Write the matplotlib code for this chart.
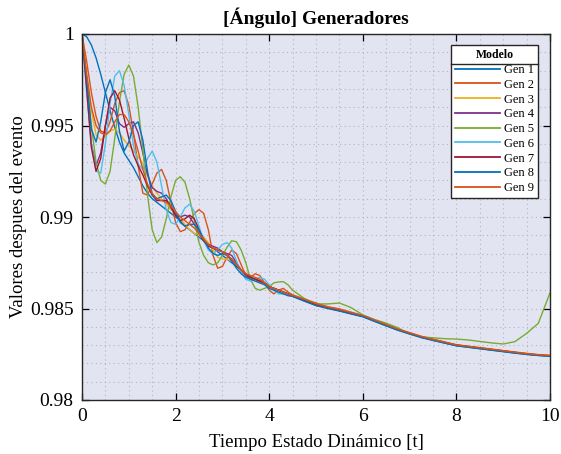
import numpy as np
import matplotlib
matplotlib.use("Agg")
from matplotlib import pyplot as plt
from matplotlib.lines import Line2D

plt.rcParams['font.family'] = ['Liberation Serif', 'DejaVu Serif']

# sample times: dense while the machines swing, coarser once they settle
t_head = np.round(np.arange(0, 4.45, 0.1), 2)
t_tail = np.arange(4.5, 10.01, 0.25)
t = np.concatenate([t_head, t_tail])

gen1 = [1.0, 0.99985, 0.9994, 0.9987, 0.9978, 0.9968, 0.9958, 0.9949, 0.9941, 0.9935,
        0.9931, 0.9927, 0.9922, 0.9917, 0.9913, 0.9910, 0.9908, 0.9906, 0.9904, 0.9902,
        0.9900, 0.9898, 0.9895, 0.9893, 0.9891, 0.9889, 0.9887, 0.9885, 0.9883, 0.9881,
        0.9879, 0.9877, 0.9875, 0.9873, 0.9871, 0.9869, 0.9867, 0.9866, 0.9865, 0.9864,
        0.9862, 0.9861, 0.9860, 0.9859, 0.9858,
        0.98568, 0.98542, 0.98518, 0.98502, 0.98488, 0.98472, 0.98456, 0.98430, 0.98406,
        0.98382, 0.98362, 0.98342, 0.98326, 0.98311, 0.98297, 0.98289, 0.98281, 0.98273,
        0.98265, 0.98257, 0.98250, 0.98244, 0.98240]

gen2 = [1.0, 0.9985, 0.9968, 0.9955, 0.9947, 0.9946, 0.9952, 0.9962, 0.9968, 0.9969,
        0.9961, 0.9946, 0.9928, 0.9913, 0.9912, 0.9918, 0.9924, 0.9926, 0.9920, 0.9908,
        0.9897, 0.9892, 0.9893, 0.9897, 0.9902, 0.9904, 0.9902, 0.9893, 0.9879, 0.9872,
        0.9873, 0.9878, 0.9882, 0.9880, 0.9874, 0.9868, 0.9867, 0.9869, 0.9868, 0.9864,
        0.9860, 0.9858, 0.9860, 0.9861, 0.9859,
        0.98575, 0.98552, 0.98530, 0.98510, 0.98498, 0.98480, 0.98462, 0.98438, 0.98412,
        0.98388, 0.98368, 0.98348, 0.98333, 0.98317, 0.98302, 0.98294, 0.98286, 0.98278,
        0.98270, 0.98262, 0.98255, 0.98248, 0.98244]

gen3 = [1.0, 0.9978, 0.9958, 0.9945, 0.9942, 0.9944, 0.9947, 0.9948, 0.9946, 0.9942,
        0.9939, 0.9936, 0.9933, 0.9929, 0.9923, 0.9917, 0.9913, 0.9910, 0.9907, 0.9904,
        0.9902, 0.9899, 0.9896, 0.9893, 0.9891, 0.9890, 0.9889, 0.9886, 0.9882, 0.9878,
        0.9877, 0.9877, 0.9876, 0.9874, 0.9871, 0.9868, 0.9866, 0.9865, 0.9864, 0.9863,
        0.9862, 0.9861, 0.9860, 0.9859, 0.9858,
        0.98570, 0.98546, 0.98522, 0.98506, 0.98490, 0.98476, 0.98461, 0.98436, 0.98411,
        0.98386, 0.98366, 0.98346, 0.98331, 0.98316, 0.98301, 0.98293, 0.98285, 0.98277,
        0.98269, 0.98261, 0.98253, 0.98247, 0.98243]

gen4 = [1.0, 0.9972, 0.9940, 0.9928, 0.9935, 0.9950, 0.9960, 0.9958, 0.9951, 0.9949,
        0.9951, 0.9952, 0.9946, 0.9935, 0.9923, 0.9916, 0.9914, 0.9913, 0.9910, 0.9905,
        0.9901, 0.9900, 0.9901, 0.9900, 0.9896, 0.9891, 0.9887, 0.9885, 0.9884, 0.9883,
        0.9881, 0.9880, 0.9879, 0.9875, 0.9871, 0.9868, 0.9866, 0.9866, 0.9865, 0.9864,
        0.9862, 0.9861, 0.9860, 0.9859, 0.9858,
        0.98568, 0.98544, 0.98520, 0.98504, 0.98489, 0.98474, 0.98459, 0.98434, 0.98409,
        0.98384, 0.98364, 0.98344, 0.98329, 0.98314, 0.98299, 0.98291, 0.98283, 0.98275,
        0.98267, 0.98259, 0.98251, 0.98245, 0.98241]

gen5 = [1.0, 0.9975, 0.9950, 0.9930, 0.9920, 0.9918, 0.9925, 0.9943, 0.9963, 0.9978,
        0.9983, 0.9977, 0.9960, 0.9937, 0.9912, 0.9893, 0.9886, 0.9889, 0.9899, 0.9911,
        0.9920, 0.9922, 0.9919, 0.9910, 0.9898, 0.9886, 0.9879, 0.9875, 0.98738, 0.9875,
        0.9879, 0.98835, 0.9887, 0.98865, 0.9882, 0.9875, 0.9866, 0.9861, 0.9860, 0.9861,
        0.9862, 0.9864, 0.98645, 0.98647, 0.9863,
        0.98600, 0.98555, 0.98525, 0.98525, 0.98530, 0.98505, 0.98465, 0.98440, 0.98420,
        0.98395, 0.98360, 0.98345, 0.98340, 0.98335, 0.98333, 0.98328, 0.98320, 0.98312,
        0.98306, 0.98319, 0.98364, 0.98419, 0.98585]

gen6 = [1.0, 0.9968, 0.9940, 0.9925, 0.9924, 0.9940, 0.9962, 0.9977, 0.9980, 0.9972,
        0.9956, 0.9939, 0.9929, 0.9926, 0.9932, 0.9936, 0.9930, 0.9917, 0.9904, 0.9897,
        0.9896, 0.9900, 0.9905, 0.9907, 0.9903, 0.9895, 0.9887, 0.9882, 0.9880, 0.9882,
        0.9885, 0.9886, 0.9883, 0.9876, 0.9870, 0.9866, 0.9865, 0.9866, 0.9867, 0.9866,
        0.9863, 0.9860, 0.9858, 0.9858, 0.9858,
        0.98572, 0.98548, 0.98522, 0.98506, 0.98492, 0.98478, 0.98463, 0.98437, 0.98412,
        0.98386, 0.98366, 0.98346, 0.98330, 0.98314, 0.98299, 0.98291, 0.98283, 0.98275,
        0.98267, 0.98259, 0.98251, 0.98245, 0.98241]

gen7 = [1.0, 0.9970, 0.9938, 0.9925, 0.9932, 0.9950, 0.9965, 0.9969, 0.9964, 0.9954,
        0.9943, 0.9934, 0.9928, 0.9923, 0.9917, 0.9912, 0.9909, 0.9909, 0.9909, 0.9906,
        0.9901, 0.9898, 0.9899, 0.9901, 0.9899, 0.9893, 0.9887, 0.9884, 0.9883, 0.9882,
        0.9881, 0.9879, 0.9877, 0.9874, 0.9871, 0.9869, 0.9867, 0.9866, 0.9865, 0.9864,
        0.9862, 0.9861, 0.9860, 0.9859, 0.9858,
        0.98570, 0.98545, 0.98521, 0.98505, 0.98490, 0.98475, 0.98460, 0.98435, 0.98410,
        0.98385, 0.98365, 0.98345, 0.98330, 0.98315, 0.98300, 0.98292, 0.98284, 0.98276,
        0.98268, 0.98260, 0.98252, 0.98246, 0.98242]

gen8 = [1.0, 0.9975, 0.9948, 0.9941, 0.9952, 0.9968, 0.9975, 0.9966, 0.9947, 0.9936,
        0.9941, 0.9950, 0.9952, 0.9942, 0.9925, 0.9912, 0.9910, 0.9911, 0.9912, 0.9909,
        0.9903, 0.9897, 0.9895, 0.9896, 0.9896, 0.9893, 0.9888, 0.9883, 0.9880, 0.9879,
        0.9880, 0.9879, 0.9876, 0.9872, 0.9869, 0.9867, 0.9866, 0.9865, 0.9864, 0.9863,
        0.9861, 0.9860, 0.9859, 0.9858, 0.9857,
        0.98566, 0.98540, 0.98516, 0.98500, 0.98486, 0.98470, 0.98455, 0.98430, 0.98405,
        0.98381, 0.98361, 0.98341, 0.98326, 0.98311, 0.98296, 0.98288, 0.98280, 0.98272,
        0.98264, 0.98256, 0.98249, 0.98243, 0.98239]

gen9 = [1.0, 0.9978, 0.9960, 0.9950, 0.9946, 0.9945, 0.9947, 0.9952, 0.9956, 0.9956,
        0.9952, 0.9945, 0.9936, 0.9926, 0.9918, 0.9913, 0.9910, 0.9909, 0.9908, 0.9906,
        0.9903, 0.9900, 0.9898, 0.9896, 0.9894, 0.9891, 0.9888, 0.9885, 0.9883, 0.9882,
        0.9881, 0.9879, 0.9877, 0.9874, 0.9871, 0.9869, 0.9868, 0.9867, 0.9866, 0.9864,
        0.9862, 0.9861, 0.9860, 0.9859, 0.9858,
        0.98572, 0.98550, 0.98526, 0.98508, 0.98494, 0.98478, 0.98462, 0.98437, 0.98412,
        0.98387, 0.98367, 0.98347, 0.98331, 0.98316, 0.98301, 0.98293, 0.98285, 0.98277,
        0.98269, 0.98261, 0.98253, 0.98247, 0.98243]

series = [gen1, gen2, gen3, gen4, gen5, gen6, gen7, gen8, gen9]
labels = ["Gen 1", "Gen 2", "Gen 3", "Gen 4", "Gen 5", "Gen 6", "Gen 7", "Gen 8", "Gen 9"]
colors = ["#0072BD", "#D95319", "#EDB120", "#7E2F8E", "#77AC30",
          "#4DBEEE", "#A2142F", "#0072BD", "#D95319"]

fig = plt.figure(figsize=(5.61, 4.54), dpi=100)
ax = fig.add_axes([82/561, 1 - 400/454, 468/561, 366/454])
ax.set_facecolor("#E3E4F1")

for y, lab, c in zip(series, labels, colors):
    ax.plot(t, y, color=c, lw=1.0, label=lab)

ax.set_xlim(0, 10)
ax.set_ylim(0.98, 1.0)
ax.set_xticks([0, 2, 4, 6, 8, 10])
ax.set_yticks([0.98, 0.985, 0.99, 0.995, 1.0])
ax.set_yticklabels(["0.98", "0.985", "0.99", "0.995", "1"])
ax.set_xticks(np.arange(0, 10.01, 0.5), minor=True)
ax.set_yticks(np.arange(0.98, 1.0001, 0.001), minor=True)

ax.grid(which="both", color="#B4B4BE", linestyle=(0, (1, 3)), linewidth=0.8)
ax.tick_params(which="major", direction="in", length=5, width=0.9,
               top=True, right=True, labelsize=14, pad=6)
ax.tick_params(which="minor", length=0)
for s in ax.spines.values():
    s.set_color("#262626")
    s.set_linewidth(1.0)

ax.set_title("[Ángulo] Generadores", fontsize=14, fontweight="bold", pad=7)
ax.set_xlabel("Tiempo Estado Dinámico [t]", fontsize=13.5, labelpad=6)
ax.set_ylabel("Valores despues del evento", fontsize=13.5, labelpad=2)

leg = ax.legend(loc="upper right", bbox_to_anchor=(0.9744, 0.970), borderaxespad=0,
                fontsize=9, title="Modelo",
                title_fontproperties={"weight": "bold", "size": 8.5},
                handlelength=3.6, handletextpad=0.25, labelspacing=0.22,
                borderpad=0.35, fancybox=False, framealpha=1, edgecolor="#262626")
leg.get_frame().set_linewidth(1.0)
for h in leg.get_lines():
    h.set_linewidth(1.3)

# separator under the legend title
fig.canvas.draw()
r = fig.canvas.get_renderer()
fb = leg.get_frame().get_window_extent(r)
tb = leg.get_title().get_window_extent(r)
ysep = tb.y0 - 3
inv = fig.transFigure.inverted()
x0, y0 = inv.transform((fb.x0, ysep))
x1, _ = inv.transform((fb.x1, ysep))
fig.add_artist(Line2D([x0, x1], [y0, y0], color="#262626", lw=1.0))

fig.savefig("out.png", dpi=100)
